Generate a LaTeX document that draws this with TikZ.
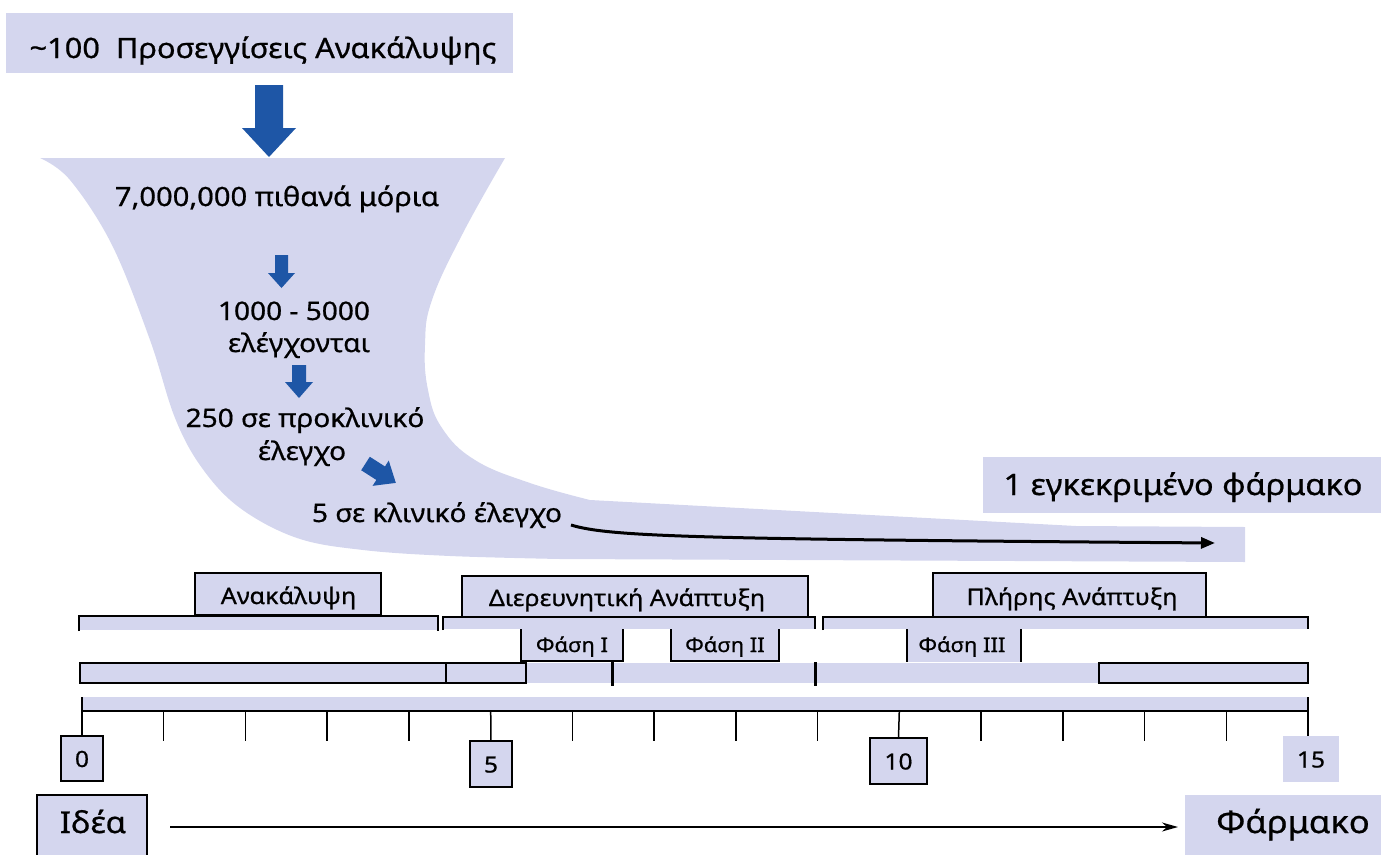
\documentclass[tikz,border=0pt]{standalone}
\usepackage{fontspec}
\setmainfont{Noto Sans}[FakeStretch=1.1, FakeBold=0.7]
\usetikzlibrary{arrows.meta}
\definecolor{lav}{RGB}{212,214,238}
\definecolor{arrblue}{RGB}{30,86,166}
\newcommand{\fsz}[1]{\fontsize{#1}{#1}\selectfont}
\begin{document}
\begin{tikzpicture}[x=1pt,y=-1pt,
  box/.style={fill=lav, inner sep=0pt, outer sep=0pt, minimum width=#1},
  bord/.style={draw=black, line width=1.3pt},
  txt/.style={inner sep=0pt, outer sep=0pt, anchor=base},
  bigtxt/.style={txt, font=\fsz{29.5}},
  funtxt/.style={txt, font=\fsz{25.5}},
  phtxt/.style={txt, font=\fsz{22.8}},
  smtxt/.style={txt, font=\fsz{20}},
  numtxt/.style={txt, font=\fsz{22.4}},
  blockarrow/.style={fill=arrblue},
  brline/.style={draw=black, line width=1.8pt},
  tick/.style={draw=black, line width=1.5pt},
  thick tick/.style={draw=black, line width=3pt}
]
\useasboundingbox (0,0) rectangle (1381,854);
% ---------- header ----------
\node[box=507pt, minimum height=60pt] (headbox) at (259.5,43) {};
\node[bigtxt, font=\fsz{28}] (head) at (263,58) {\textasciitilde100\ \ Προσεγγίσεις Ανακάλυψης};
% big arrow
\fill[blockarrow] (255,85) -- (283,85) -- (283,128) -- (296,128) -- (269,157) -- (242,128) -- (255,128) -- cycle;
% ---------- funnel ----------
\fill[lav] (40,158) -- (505,158)
  -- plot[smooth, tension=0.7] coordinates {(505,158) (463,233) (432,300) (425,345) (428,390) (442,428) (475,460) (530,483) (590,500)}
  -- (1076,526) -- (1245,527) -- (1245,562) -- (560,559)
  -- plot[smooth, tension=0.6] coordinates {(560,559) (450,556) (363,550) (297,538) (240,508) (202,468) (175,418) (150,340) (112,245) (70,180) (40,158)}
  -- cycle;
\node[funtxt, font=\fsz{26.5}] (t7m) at (277,206) {7,000,000 πιθανά μόρια};
\fill[blockarrow] (275,255) -- (288,255) -- (288,273) -- (295,273) -- (281.5,288) -- (268,273) -- (275,273) -- cycle;
\node[funtxt] (t1000) at (294,320) {1000 - 5000};
\node[funtxt] (tel) at (299,352) {ελέγχονται};
\fill[blockarrow] (292,365) -- (306,365) -- (306,382) -- (313,382) -- (299,398) -- (285,382) -- (292,382) -- cycle;
\node[funtxt] (t250) at (305,427) {250 σε προκλινικό};
\node[funtxt] (tel2) at (302,460) {έλεγχο};
\begin{scope}[shift={(365.5,463.5)}, rotate=-32.6]
  \fill[blockarrow] (0,-8) -- (18,-8) -- (18,-15) -- (36,0) -- (18,15) -- (18,8) -- (0,8) -- cycle;
\end{scope}
\node[funtxt] (t5) at (437,522) {5 σε κλινικό έλεγχο};
\coordinate (arrstart) at (571,525);
\coordinate (arrend) at (1215,543);
\draw[line width=3pt, -{Triangle[length=14pt,width=11pt]}] (arrstart) .. controls (610,537) and (700,539) .. (arrend);
\node[box=398pt, minimum height=56pt] (apprbox) at (1182,485) {};
\node[bigtxt] (appr) at (1183,495) {1 εγκεκριμένο φάρμακο};
% ---------- phase headers ----------
\node[box=186pt, minimum height=42pt, bord] (discbox) at (288,594) {};
\node[phtxt] (disc) at (288.5,604) {Ανακάλυψη};
\node[box=346pt, minimum height=41pt, bord] (explbox) at (635,596.5) {};
\node[phtxt] (expl) at (627,606) {Διερευνητική Ανάπτυξη};
\node[box=273pt, minimum height=44pt, bord] (fullbox) at (1069.5,595) {};
\node[phtxt] (full) at (1072,605) {Πλήρης Ανάπτυξη};
% brackets
\fill[lav] (79,616) rectangle (438,630);
\draw[brline] (79,631) -- (79,616) -- (438,616) -- (438,631);
\fill[lav] (443,617) rectangle (815,629);
\draw[brline] (443,630) -- (443,617) -- (815,617) -- (815,629);
\fill[lav] (823,617) rectangle (1308,629);
\draw[brline] (823,630) -- (823,617) -- (1308,617) -- (1308,629);
% phase boxes
\node[box=102pt, minimum height=32pt] (ph1box) at (572,645) {};
\draw[bord] (ph1box.north west) -- (ph1box.south west) -- (ph1box.south east) -- (ph1box.north east);
\node[smtxt] (ph1) at (572,652) {Φάση Ι};
\node[box=108pt, minimum height=32pt] (ph2box) at (725,645) {};
\draw[bord] (ph2box.north west) -- (ph2box.south west) -- (ph2box.south east) -- (ph2box.north east);
\node[smtxt] (ph2) at (725,652) {Φάση ΙΙ};
\node[box=114pt, minimum height=33pt] (ph3box) at (964,645.5) {};
\draw[bord] (ph3box.north west) -- (ph3box.south west);
\draw[bord] (ph3box.north east) -- (ph3box.south east);
\node[smtxt] (ph3) at (962,652) {Φάση ΙΙΙ};
% ---------- row bar ----------
\fill[lav] (80,663) rectangle (1308,683);
\draw[bord] (80,663) rectangle (446,683);
\draw[bord] (446,663) rectangle (526,683);
\draw[bord] (1099,663) rectangle (1308,683);
\draw[thick tick] (612,662) -- (612,686);
\draw[thick tick] (815,662) -- (815,686);
% ---------- axis ----------
\fill[lav] (82,697) rectangle (1308,711);
\draw[tick] (82,711) -- (1308,711);
\foreach \k in {1,2,3,4,6,7,8,9,11,12,13,14} {
  \draw[tick] ({82+\k*81.733},711) -- ({82+\k*81.733},741);
}
\node[box=42pt, minimum height=45pt, bord] (b0) at (82,758.5) {};
\node[numtxt] (l0) at (82,767) {0};
\node[box=42pt, minimum height=46pt, bord] (b5) at (491,764) {};
\node[numtxt] (l5) at (491,772.5) {5};
\node[box=57pt, minimum height=46pt, bord] (b10) at (898.5,761) {};
\node[numtxt] (l10) at (898.5,769.5) {10};
\node[box=56pt, minimum height=46pt] (b15) at (1311,759) {};
\node[numtxt] (l15) at (1311,767.5) {15};
\draw[tick] (82,697) -- (b0.north);
\draw[tick] (490.7,711) -- (b5.north);
\draw[tick] (899.3,711) -- (b10.north);
\draw[tick] (1308,697) -- (1308,736);
% ---------- bottom ----------
\node[box=110pt, minimum height=64pt, bord] (ideabox) at (92,827) {};
\node[bigtxt, font=\fsz{30}] (idea) at (93,833) {Ιδέα};
\node[box=200pt, minimum height=62pt] (drugbox) at (1285,826) {};
\node[bigtxt, font=\fsz{31.4}] (drug) at (1293,833) {Φάρμακο};
\draw[line width=1.5pt, -{Stealth[length=16pt,width=9pt,inset=5pt]}] ([xshift=23pt]ideabox.east |- 0,827) -- ([xshift=-7pt]drugbox.west |- 0,827);
\end{tikzpicture}
\end{document}
